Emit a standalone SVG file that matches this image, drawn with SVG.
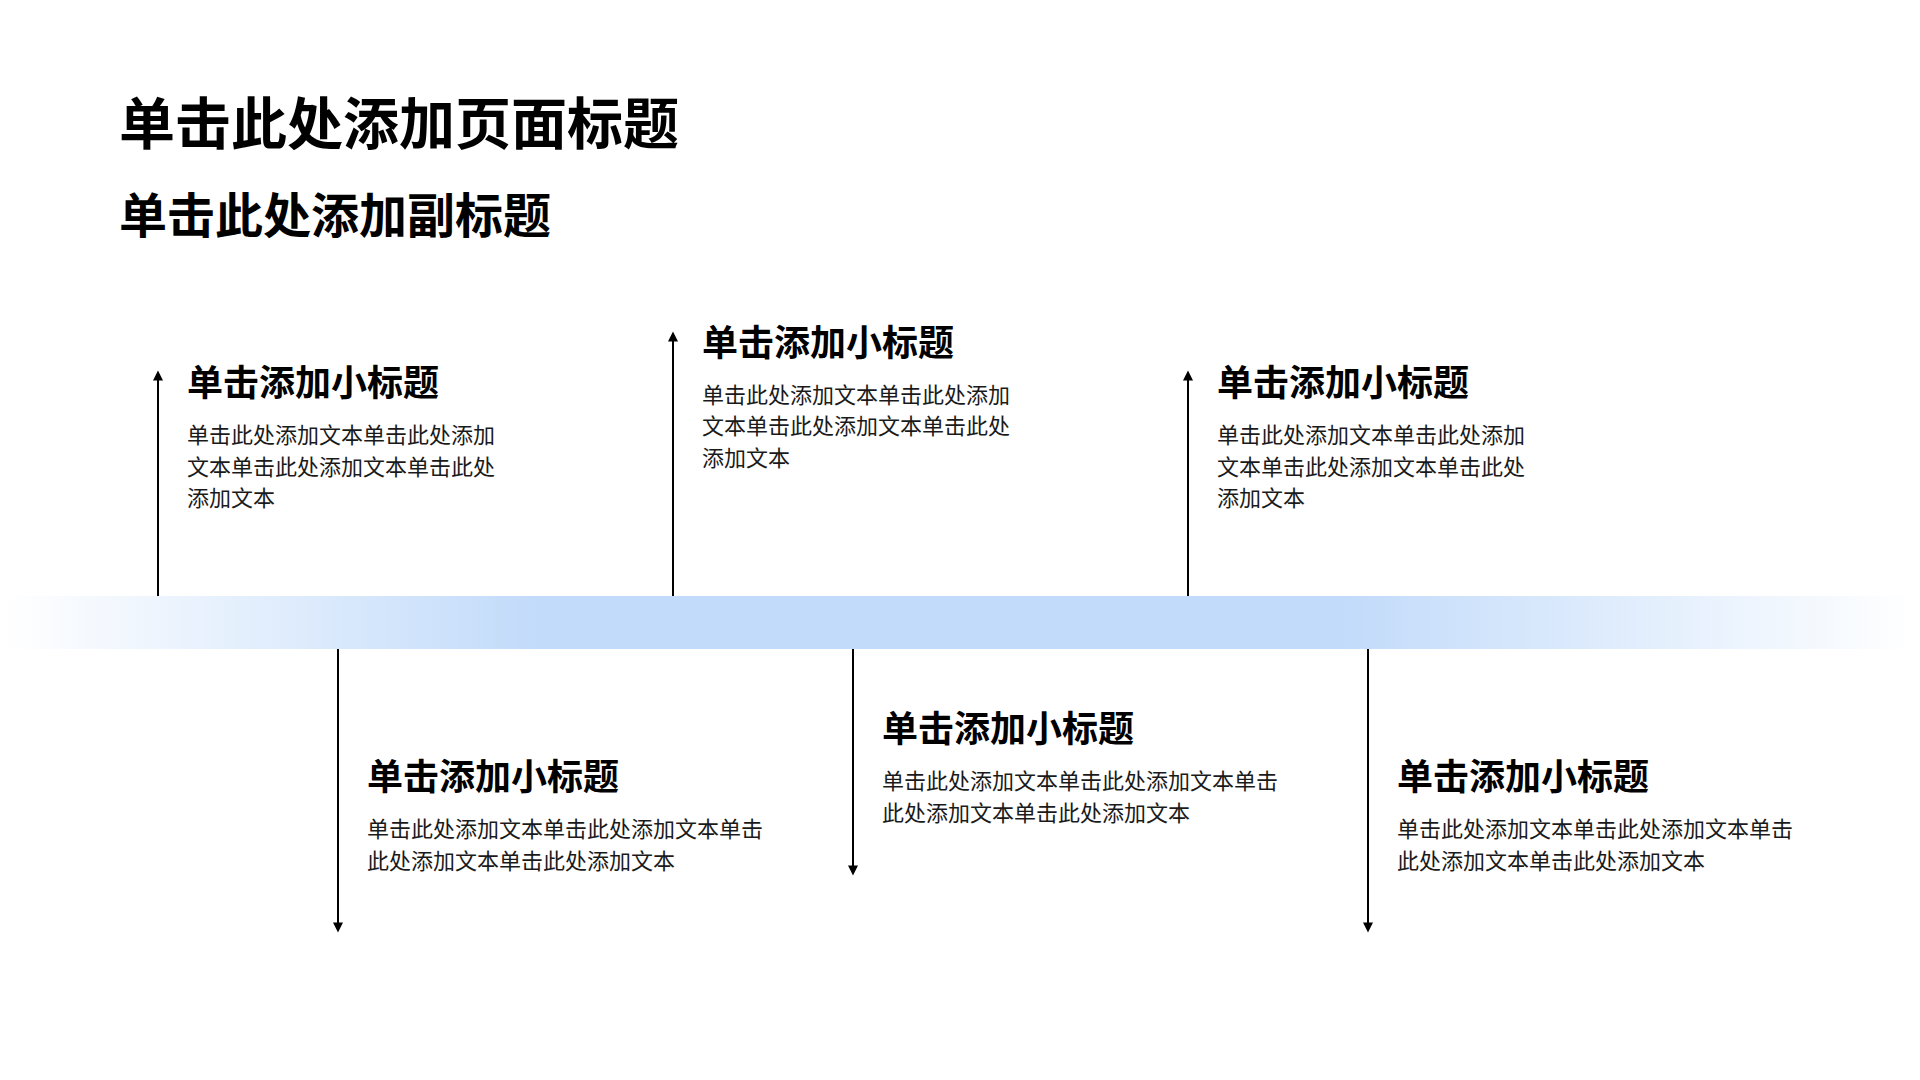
<svg xmlns="http://www.w3.org/2000/svg" width="1920" height="1080" viewBox="0 0 1920 1080">
  <style>
    text { font-family: "Noto Sans CJK SC", "Noto Sans", sans-serif; fill: #000; }
    .title { font-size: 56px; font-weight: 700; }
    .subtitle { font-size: 48px; font-weight: 700; }
    .head { font-size: 36px; font-weight: 700; }
    .body { font-size: 22px; font-weight: 400; fill: #1a1a1a; }
    .arrow { stroke: #000; stroke-width: 2; fill: none; marker-end: url(#ah); }
  </style>
  <defs>
    <linearGradient id="band" x1="0" y1="0" x2="1" y2="0">
      <stop offset="0" stop-color="#C2DBFA" stop-opacity="0"/>
      <stop offset="0.28" stop-color="#C2DBFA" stop-opacity="1"/>
      <stop offset="0.70" stop-color="#C2DBFA" stop-opacity="1"/>
      <stop offset="1" stop-color="#C2DBFA" stop-opacity="0"/>
    </linearGradient>
    <marker id="ah" viewBox="0 0 10 10" refX="6.4" refY="5" markerWidth="12" markerHeight="10" markerUnits="userSpaceOnUse" orient="auto">
      <path d="M0,0 L10,5 L0,10 z" fill="#000"/>
    </marker>
  </defs>
  <rect width="1920" height="1080" fill="#fff"/>

  <g id="header">
    <text class="title" x="119" y="144">单击此处添加页面标题</text>
    <text class="subtitle" x="119" y="233">单击此处添加副标题</text>
  </g>

  <g id="timeline-band">
    <rect x="4" y="596" width="1910" height="53" fill="url(#band)"/>
  </g>

  <g id="connectors">
    <line class="arrow" x1="158" y1="596" x2="158" y2="374"/>
    <line class="arrow" x1="673" y1="596" x2="673" y2="335"/>
    <line class="arrow" x1="1188" y1="596" x2="1188" y2="374"/>
    <line class="arrow" x1="338" y1="649" x2="338" y2="929"/>
    <line class="arrow" x1="853" y1="649" x2="853" y2="872"/>
    <line class="arrow" x1="1368" y1="649" x2="1368" y2="929"/>
  </g>

  <g id="node-1">
    <text class="head" x="187" y="396">单击添加小标题</text>
    <text class="body" x="187" y="443">单击此处添加文本单击此处添加</text>
    <text class="body" x="187" y="474.5">文本单击此处添加文本单击此处</text>
    <text class="body" x="187" y="506">添加文本</text>
  </g>

  <g id="node-2">
    <text class="head" x="702" y="355.5">单击添加小标题</text>
    <text class="body" x="702" y="402.5">单击此处添加文本单击此处添加</text>
    <text class="body" x="702" y="434">文本单击此处添加文本单击此处</text>
    <text class="body" x="702" y="465.5">添加文本</text>
  </g>

  <g id="node-3">
    <text class="head" x="1217" y="396">单击添加小标题</text>
    <text class="body" x="1217" y="443">单击此处添加文本单击此处添加</text>
    <text class="body" x="1217" y="474.5">文本单击此处添加文本单击此处</text>
    <text class="body" x="1217" y="506">添加文本</text>
  </g>

  <g id="node-4">
    <text class="head" x="367" y="790">单击添加小标题</text>
    <text class="body" x="367" y="836.5">单击此处添加文本单击此处添加文本单击</text>
    <text class="body" x="367" y="868.5">此处添加文本单击此处添加文本</text>
  </g>

  <g id="node-5">
    <text class="head" x="882" y="742">单击添加小标题</text>
    <text class="body" x="882" y="788.5">单击此处添加文本单击此处添加文本单击</text>
    <text class="body" x="882" y="820.5">此处添加文本单击此处添加文本</text>
  </g>

  <g id="node-6">
    <text class="head" x="1397" y="790">单击添加小标题</text>
    <text class="body" x="1397" y="836.5">单击此处添加文本单击此处添加文本单击</text>
    <text class="body" x="1397" y="868.5">此处添加文本单击此处添加文本</text>
  </g>
</svg>
